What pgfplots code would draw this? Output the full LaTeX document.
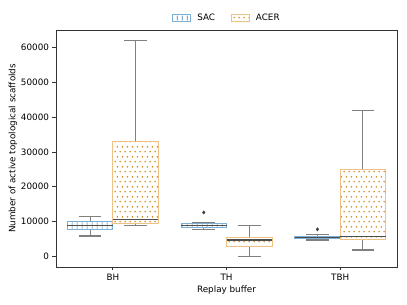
\documentclass[border=0pt]{standalone}
\usepackage{fontspec}
\setmainfont{DejaVu Sans}
\usepackage{pgfplots}
\pgfplotsset{compat=1.18}
\usepgfplotslibrary{statistics}
\usetikzlibrary{patterns}
\definecolor{sachatch}{HTML}{3A7BB0}
\definecolor{sacedge}{HTML}{7DB0D6}
\definecolor{acerdot}{HTML}{D48E22}
\definecolor{aceredge}{HTML}{EDC083}
\definecolor{wgrey}{HTML}{808080}
\definecolor{medgrey}{HTML}{4D4D4D}
\definecolor{outl}{HTML}{3F3F3F}
\pgfdeclarepatternformonly{stagdots}{\pgfqpoint{0pt}{0pt}}{\pgfqpoint{5.2pt}{10.2pt}}{\pgfqpoint{5.2pt}{10.2pt}}{%
  \pgfpathcircle{\pgfqpoint{1.3pt}{2.55pt}}{1pt}%
  \pgfpathcircle{\pgfqpoint{3.9pt}{7.65pt}}{1pt}%
  \pgfusepath{fill}}
\pgfdeclarepatternformonly{vlines}{\pgfqpoint{0pt}{0pt}}{\pgfqpoint{5pt}{5pt}}{\pgfqpoint{5pt}{5pt}}{%
  \pgfsetlinewidth{0.8pt}%
  \pgfpathmoveto{\pgfqpoint{2.5pt}{0pt}}\pgfpathlineto{\pgfqpoint{2.5pt}{5pt}}%
  \pgfusepath{stroke}}
\newcommand{\fs}{\fontsize{8.8}{10.5}\selectfont}
\pgfplotsset{
  sacbox/.style={
    boxplot/draw direction=y,
    boxplot/every box/.style={draw=sacedge, line width=0.9pt},
    boxplot/every whisker/.style={draw=wgrey, line width=1.1pt},
    boxplot/every median/.style={draw=medgrey, line width=1.1pt},
    boxplot/box extend=0.4, boxplot/whisker extend=0.2},
  acerbox/.style={
    boxplot/draw direction=y,
    boxplot/every box/.style={draw=aceredge, line width=0.9pt},
    boxplot/every whisker/.style={draw=wgrey, line width=1.1pt},
    boxplot/every median/.style={draw=medgrey, line width=1.1pt},
    boxplot/box extend=0.4, boxplot/whisker extend=0.2},
  sacfill/.style={draw=none, pattern=vlines, pattern color=sachatch, forget plot},
  acerfill/.style={draw=none, pattern=stagdots, pattern color=acerdot, forget plot},
}
\begin{document}
\begin{tikzpicture}[font=\fs]
% values in thousands of scaffolds
\begin{axis}[
  at={(56pt,38pt)}, anchor=south west,
  scale only axis, width=341pt, height=237pt,
  xmin=-0.5, xmax=2.5, ymin=-3.1, ymax=65.1,
  xtick={0,1,2}, xticklabels={BH,TH,TBH},
  ytick={0,10,20,30,40,50,60},
  yticklabels={0,10000,20000,30000,40000,50000,60000},
  tick align=outside, tick pos=left,
  major tick length=3.5pt,
  tick style={black!80, line width=0.7pt},
  axis line style={black!80, line width=0.8pt},
  tick label style={font=\fs},
  label style={font=\fs},
  xlabel={Replay buffer},
  ylabel={Number of active topological scaffolds},
  xlabel style={at={(axis description cs:0.5,0)}, yshift=-23pt, anchor=center},
  ylabel style={at={(axis description cs:0,0.5)}, yshift=43pt, anchor=center},
  legend style={at={(0.5,1)}, anchor=south, yshift=7pt, draw=none, fill=none,
    font=\fs, legend columns=2, inner sep=0pt, nodes={inner sep=1pt},
    /tikz/every odd column/.append style={column sep=5pt},
    /tikz/every even column/.append style={column sep=15pt}},
  legend cell align=left,
]
\addlegendimage{legend image code/.code={\draw[draw=sacedge, line width=0.9pt, pattern=vlines, pattern color=sachatch] (0pt,-3.3pt) rectangle (18pt,3.3pt);}}
\addlegendentry{SAC}
\addlegendimage{legend image code/.code={\draw[draw=aceredge, line width=0.9pt, pattern=stagdots, pattern color=acerdot] (0pt,-3.3pt) rectangle (18pt,3.3pt);}}
\addlegendentry{ACER}
% hatched box faces
\addplot[sacfill] coordinates {(-0.4,7.83) (0,7.83) (0,9.95) (-0.4,9.95)} -- cycle;
\addplot[acerfill] coordinates {(0,9.40) (0.4,9.40) (0.4,33.05) (0,33.05)} -- cycle;
\addplot[sacfill] coordinates {(0.6,8.40) (1,8.40) (1,9.37) (0.6,9.37)} -- cycle;
\addplot[acerfill] coordinates {(1,2.87) (1.4,2.87) (1.4,5.36) (1,5.36)} -- cycle;
\addplot[sacfill] coordinates {(1.6,5.25) (2,5.25) (2,5.82) (1.6,5.82)} -- cycle;
\addplot[acerfill] coordinates {(2,4.87) (2.4,4.87) (2.4,24.85) (2,24.85)} -- cycle;
% BH
\addplot[forget plot, sacbox, boxplot prepared={draw position=-0.2,
  lower whisker=5.82, lower quartile=7.83, median=8.885, upper quartile=9.95, upper whisker=11.38}]
  coordinates {};
\addplot[forget plot, acerbox, boxplot prepared={draw position=0.2,
  lower whisker=8.885, lower quartile=9.40, median=10.60, upper quartile=33.05, upper whisker=62.00}]
  coordinates {};
% TH
\addplot[forget plot, sacbox, mark=diamond*, mark size=1.7pt, mark options={fill=outl, draw=outl},
  boxplot prepared={draw position=0.8,
  lower whisker=7.65, lower quartile=8.40, median=8.885, upper quartile=9.37, upper whisker=9.66}]
  coordinates {(0,12.6)};
\addplot[forget plot, acerbox, boxplot prepared={draw position=1.2,
  lower whisker=0, lower quartile=2.87, median=4.67, upper quartile=5.36, upper whisker=8.90}]
  coordinates {};
% TBH
\addplot[forget plot, sacbox, mark=diamond*, mark size=1.7pt, mark options={fill=outl, draw=outl},
  boxplot prepared={draw position=1.8,
  lower whisker=4.67, lower quartile=5.25, median=5.50, upper quartile=5.82, upper whisker=6.22}]
  coordinates {(0,7.74)};
\addplot[forget plot, acerbox, boxplot prepared={draw position=2.2,
  lower whisker=1.80, lower quartile=4.87, median=5.65, upper quartile=24.85, upper whisker=42.04}]
  coordinates {};
\end{axis}
\pgfresetboundingbox
\path (0,0) rectangle (407pt,305pt);
\end{tikzpicture}
\end{document}
